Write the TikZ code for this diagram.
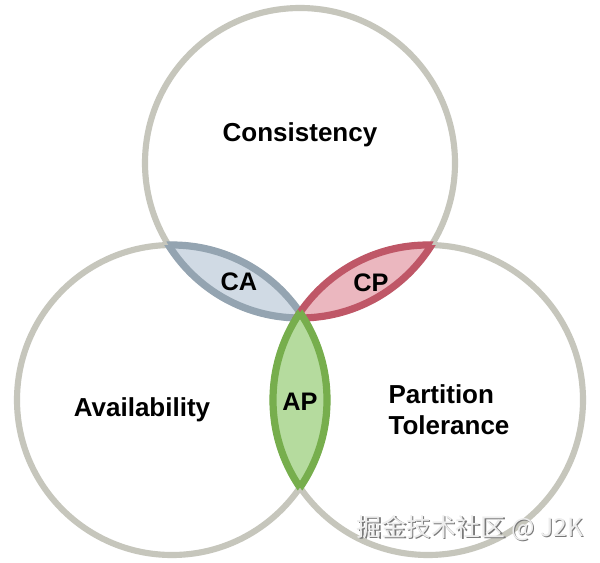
\documentclass[tikz,border=0pt]{standalone}
\usepackage{fontspec}
\setmainfont{Liberation Sans}
\newfontfamily\cjkfont{Noto Sans CJK SC}
\definecolor{ringgray}{HTML}{C6C6BC}
\definecolor{cafill}{HTML}{D0DAE4}
\definecolor{castroke}{HTML}{94A4B1}
\definecolor{cpfill}{HTML}{EBB7BF}
\definecolor{cpstroke}{HTML}{BF5767}
\definecolor{apfill}{HTML}{B5DB9E}
\definecolor{apstroke}{HTML}{77AE4D}
\definecolor{wmshadow}{HTML}{7A7A7A}
\definecolor{wmfill}{HTML}{EDEDED}
\begin{document}
\begin{tikzpicture}[x=0.75pt,y=-0.75pt,
  ring/.style={draw=ringgray,line width=4.6pt},
  lensline/.style={line width=5.4pt},
  label/.style={font=\bfseries\fontsize{19.5}{23}\selectfont,text=black,align=left},
  lenslabel/.style={font=\bfseries\fontsize{19}{22}\selectfont,text=black},
  wm/.style={font=\cjkfont\fontsize{18.6}{20}\selectfont}]
\useasboundingbox[fill=white] (0,0) rectangle (600,563);
\def\R{155}
\coordinate (T) at (300,163);
\coordinate (L) at (172,400);
\coordinate (Rc) at (428,400);
% rings
\draw[ring] (T) circle[radius=\R];
\draw[ring] (L) circle[radius=\R];
\draw[ring] (Rc) circle[radius=\R];
% CA lens
\begin{scope}\clip (L) circle[radius=\R]; \fill[cafill] (T) circle[radius=\R]; \draw[lensline,castroke] (T) circle[radius=\R];\end{scope}
\begin{scope}\clip (T) circle[radius=\R]; \draw[lensline,castroke] (L) circle[radius=\R];\end{scope}
% CP lens
\begin{scope}\clip (Rc) circle[radius=\R]; \fill[cpfill] (T) circle[radius=\R]; \draw[lensline,cpstroke] (T) circle[radius=\R];\end{scope}
\begin{scope}\clip (T) circle[radius=\R]; \draw[lensline,cpstroke] (Rc) circle[radius=\R];\end{scope}
% AP lens
\begin{scope}\clip (L) circle[radius=\R]; \fill[apfill] (Rc) circle[radius=\R]; \draw[lensline,apstroke] (Rc) circle[radius=\R];\end{scope}
\begin{scope}\clip (Rc) circle[radius=\R]; \draw[lensline,apstroke] (L) circle[radius=\R];\end{scope}
% labels
\node[label] (cons) at (300,135) {Consistency};
\node[label] (avail) at (142,410) {Availability};
\node[label] (part) at (449,410) {Partition\\Tolerance};
\node[lenslabel] (ca) at (239,282) {CA};
\node[lenslabel] (cp) at (371,283) {CP};
\node[lenslabel] (ap) at (300,402) {AP};
% watermark
\node[wm,text=wmshadow] (wmsh) at (471.5,529.5) {掘金技术社区 @ J2K};
\node[wm,text=wmfill] (wmark) at (470,528) {掘金技术社区 @ J2K};
\end{tikzpicture}
\end{document}
